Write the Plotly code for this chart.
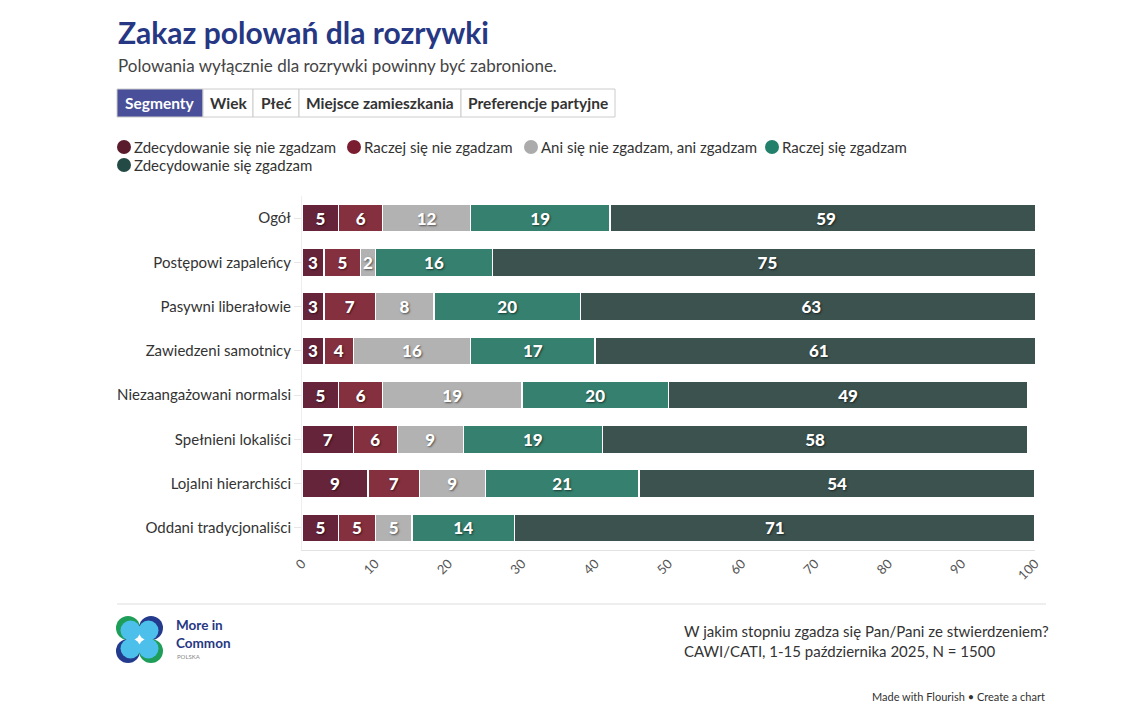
import plotly.graph_objects as go

# ---------------- data ----------------
categories = ["Ogół", "Postępowi zapaleńcy", "Pasywni liberałowie", "Zawiedzeni samotnicy",
              "Niezaangażowani normalsi", "Spełnieni lokaliści", "Lojalni hierarchiści",
              "Oddani tradycjonaliści"]
series_names = ["Zdecydowanie się nie zgadzam", "Raczej się nie zgadzam",
                "Ani się nie zgadzam, ani zgadzam", "Raczej się zgadzam",
                "Zdecydowanie się zgadzam"]
strongly_disagree = [5, 3, 3, 3, 5, 7, 9, 5]
rather_disagree = [6, 5, 7, 4, 6, 6, 7, 5]
neutral = [12, 2, 8, 16, 19, 9, 9, 5]
rather_agree = [19, 16, 20, 17, 20, 19, 21, 14]
strongly_agree = [59, 75, 63, 61, 49, 58, 54, 71]
x_ticks = [0, 10, 20, 30, 40, 50, 60, 70, 80, 90, 100]
tabs = ["Segmenty", "Wiek", "Płeć", "Miejsce zamieszkania", "Preferencje partyjne"]

series_values = [strongly_disagree, rather_disagree, neutral, rather_agree, strongly_agree]
colors = ["#66243a", "#85303f", "#b2b2b2", "#35806f", "#3b524f"]
legend_colors = ["#5a1c2c", "#7a1d30", "#ababab", "#23806a", "#234a45"]

W, H = 1139, 712
L, R, T, B = 302, 104, 196, 162
PW, PH = W - L - R, H - T - B


def px(x):
    return (x - L) / PW


def py(y):
    return (H - B - y) / PH


FONT = "Lato"

fig = go.Figure()
for name, vals, col in zip(series_names, series_values, colors):
    fig.add_trace(go.Bar(
        y=categories, x=vals, name=name, orientation="h",
        marker=dict(color=col, line=dict(color="white", width=1.5)),
        text=[str(v) for v in vals], textposition="inside",
        insidetextanchor="middle", textangle=0, constraintext="none",
        textfont=dict(family=FONT, size=17, color="white", weight=900,
                      shadow="1px 1px 2px rgba(0,0,0,0.55)"),
        showlegend=False, hoverinfo="x+y+name",
    ))

fig.update_layout(
    width=W, height=H, barmode="stack", bargap=0.37,
    margin=dict(l=L, r=R, t=T, b=B),
    paper_bgcolor="white", plot_bgcolor="white",
    font=dict(family=FONT, color="#333"),
    uniformtext=dict(minsize=16, mode="show"),
    xaxis=dict(range=[0, 100], tickvals=x_ticks, tickangle=-45,
               showgrid=False, zeroline=False, showline=True, linecolor="#e2e2e2",
               linewidth=1, ticks="", tickfont=dict(size=13, color="#555")),
    yaxis=dict(categoryorder="array", categoryarray=categories, autorange="reversed",
               showgrid=False, zeroline=False, showline=True, linecolor="#eeeeee",
               ticks="outside", ticklen=7, tickcolor="#e6e6e6",
               tickfont=dict(size=15, color="#333")),
)

ann = []
shapes = []
# title & subtitle
ann.append(dict(text="<b>Zakaz polowań dla rozrywki</b>", x=px(116), y=py(32), xref="paper", yref="paper",
                xanchor="left", yanchor="middle", showarrow=False,
                font=dict(family=FONT, size=30, color="#263784", weight=900)))
ann.append(dict(text="Polowania wyłącznie dla rozrywki powinny być zabronione.", x=px(116), y=py(66),
                xref="paper", yref="paper", xanchor="left", yanchor="middle", showarrow=False,
                font=dict(family=FONT, size=17, color="#444")))

# tab buttons
tab_edges = [117, 203, 253, 299, 461, 615]
for i, t in enumerate(tabs):
    x0, x1 = tab_edges[i], tab_edges[i + 1]
    active = i == 0
    shapes.append(dict(type="rect", xref="paper", yref="paper", x0=px(x0), x1=px(x1),
                       y0=py(117), y1=py(89),
                       fillcolor="#4a4f99" if active else "white",
                       line=dict(color="#cccccc", width=1)))
    ann.append(dict(text="<b>%s</b>" % t, x=px((x0 + x1) / 2), y=py(103), xref="paper", yref="paper",
                    xanchor="center", yanchor="middle", showarrow=False,
                    font=dict(family=FONT, size=15.5, color="white" if active else "#333")))

# legend
legend_pos = [(124, 147), (354, 147), (531, 147), (772, 147), (124, 165)]
for (cx, cy), name, col in zip(legend_pos, series_names, legend_colors):
    r = 7
    shapes.append(dict(type="circle", xref="paper", yref="paper", x0=px(cx - r), x1=px(cx + r),
                       y0=py(cy + r), y1=py(cy - r), fillcolor=col, line=dict(width=0)))
    ann.append(dict(text=name, x=px(cx + 8), y=py(cy), xref="paper", yref="paper",
                    xanchor="left", yanchor="middle", showarrow=False,
                    font=dict(family=FONT, size=15, color="#333")))

# footer line
shapes.append(dict(type="line", xref="paper", yref="paper", x0=px(117), x1=px(1046),
                   y0=py(604), y1=py(604), line=dict(color="#dddddd", width=1)))

# logo
logo = [((128, 628), "#1f9e5a"), ((151, 628), "#243a8c"), ((128, 651), "#243a8c"), ((151, 651), "#1f9e5a")]
for (cx, cy), col in logo:
    r = 12
    shapes.append(dict(type="circle", xref="paper", yref="paper", x0=px(cx - r), x1=px(cx + r),
                       y0=py(cy + r), y1=py(cy - r), fillcolor=col, line=dict(width=0)))
for (cx, cy), col in logo:
    r = 10
    dx = 2.5 if cx < 140 else -2.5
    dy = 2.5 if cy < 640 else -2.5
    shapes.append(dict(type="circle", xref="paper", yref="paper", x0=px(cx + dx - r), x1=px(cx + dx + r),
                       y0=py(cy + dy + r), y1=py(cy + dy - r), fillcolor="#4cc0ea", line=dict(width=0)))
ann.append(dict(text="<b>More in<br>Common</b>", x=px(174), y=py(634), xref="paper", yref="paper",
                xanchor="left", yanchor="middle", showarrow=False, align="left",
                font=dict(family=FONT, size=13.5, color="#263784", weight=900)))
ann.append(dict(text="POLSKA", x=px(175), y=py(656), xref="paper", yref="paper",
                xanchor="left", yanchor="middle", showarrow=False,
                font=dict(family=FONT, size=6, color="#888")))

# notes
ann.append(dict(text="W jakim stopniu zgadza się Pan/Pani ze stwierdzeniem?<br>CAWI/CATI, 1-15 października 2025, N = 1500",
                x=px(682), y=py(641), xref="paper", yref="paper", xanchor="left", yanchor="middle",
                showarrow=False, align="left", font=dict(family=FONT, size=15, color="#333")))
ann.append(dict(text="Made with Flourish • Create a chart", x=px(1047), y=py(696), xref="paper", yref="paper",
                xanchor="right", yanchor="middle", showarrow=False,
                font=dict(family=FONT, size=11, color="#333")))

fig.update_layout(annotations=ann, shapes=shapes)
fig.write_html("out.html")
